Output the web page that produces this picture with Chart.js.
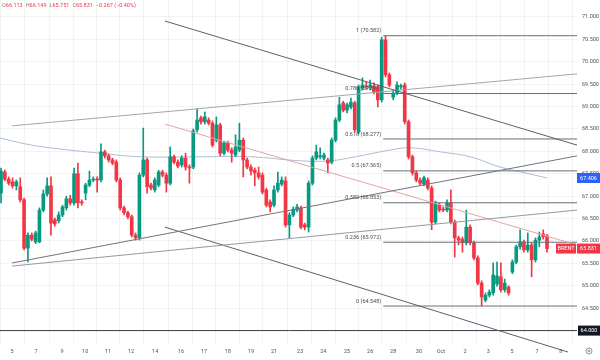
<!DOCTYPE html>
<html>
<head>
<meta charset="utf-8">
<title>Brent 4H</title>
<script src="https://cdn.jsdelivr.net/npm/chart.js@4.4.1/dist/chart.umd.min.js"></script>
<style>
  html, body { margin: 0; padding: 0; background: #ffffff; }
  #wrap { width: 600px; height: 360px; position: relative; }
</style>
</head>
<body>
<div id="wrap"><canvas id="chart"></canvas></div>
<script>
/**
 * Brent 4H candles with trend lines and a fib retracement
 * Values
 */

// candles, one per 4H bar
const opens = [67.07,67.54,67.38,67.32,67.23,67.21,66.92,65.84,66.13,65.98,65.98,66.69,67.05,67.23,66.47,66.45,66.58,66.74,66.94,66.85,
  67.50,66.87,67.07,67.25,67.36,67.38,67.36,67.99,67.90,67.81,67.76,67.36,66.74,66.63,66.54,66.13,66.07,67.47,67.81,67.25,
  67.14,67.25,67.54,67.47,67.29,67.88,67.76,67.70,67.85,67.65,67.65,68.48,68.75,68.66,68.70,68.63,68.25,68.59,67.96,68.19,
  68.03,67.92,68.03,68.25,67.81,67.65,67.58,67.52,67.47,67.14,66.87,66.80,67.14,67.27,67.34,66.36,66.58,66.69,66.74,66.36,
  66.31,67.29,67.85,67.88,67.85,67.81,67.76,68.25,68.70,69.08,68.92,68.99,69.08,68.43,69.42,69.46,69.42,69.46,69.44,69.15,
  70.49,69.71,69.21,69.30,69.44,69.48,68.66,67.88,67.52,67.36,67.27,67.36,67.18,66.42,66.80,66.71,66.69,66.85,66.42,66.07,
  66.04,65.96,66.31,65.96,65.62,65.06,64.68,64.79,64.84,65.04,65.20,64.91,64.97,65.31,65.53,65.87,65.98,65.80,65.91,65.58,
  66.02,66.16,66.113];
const highs = [67.63,67.58,67.43,67.41,67.36,67.41,66.96,66.18,66.18,66.22,66.74,67.14,67.41,67.43,66.51,66.65,66.80,67.00,67.02,67.63,
  67.74,66.92,67.29,67.56,67.43,67.43,68.17,68.03,67.94,67.85,67.81,67.41,66.78,66.67,66.58,66.18,67.52,68.52,67.85,67.29,
  67.41,67.58,67.58,67.52,68.10,67.92,67.81,67.90,67.96,67.70,68.50,68.95,68.79,68.88,68.75,68.68,68.77,68.63,68.23,68.23,
  68.08,68.37,68.63,68.30,67.85,67.70,67.63,67.65,67.52,67.18,66.92,67.23,67.54,67.43,67.43,66.63,66.76,66.82,66.78,66.40,
  67.34,67.90,68.14,68.08,67.96,67.85,68.30,68.75,69.21,69.12,69.08,69.19,69.12,69.48,69.64,69.55,69.59,69.53,69.48,70.55,
  70.58,69.75,69.37,69.55,69.50,69.53,68.70,67.92,67.56,67.41,67.45,67.41,67.23,66.89,66.85,66.76,66.92,67.14,66.47,66.11,
  66.09,66.69,66.36,66.00,65.67,65.11,64.84,64.91,65.51,65.53,65.51,65.15,65.00,65.58,65.91,66.25,66.02,66.18,65.96,66.07,
  66.20,66.25,66.149];
const lows = [66.85,67.34,67.25,67.18,67.14,66.87,65.80,65.53,66.00,65.94,65.96,66.65,67.00,66.13,66.33,66.40,66.54,66.69,66.80,66.80,
  66.74,66.80,66.92,67.21,67.32,67.09,67.32,67.85,67.76,67.70,67.32,66.69,66.58,66.49,66.09,66.02,66.02,67.43,67.07,67.14,
  67.09,67.21,67.43,67.09,67.25,67.72,67.63,67.65,67.58,67.29,67.61,68.43,68.61,68.61,68.59,68.10,68.21,67.90,67.92,67.99,
  67.76,67.88,67.99,67.43,67.61,67.47,67.23,67.38,67.05,66.76,66.65,66.76,67.09,67.23,66.31,66.07,66.54,66.65,66.27,66.25,
  66.20,67.25,67.81,67.83,67.81,67.52,67.72,68.21,68.66,68.88,68.86,68.95,68.43,68.39,69.37,69.39,69.37,69.28,68.99,69.10,
  69.66,69.44,69.15,69.26,69.39,68.61,67.83,67.47,67.32,67.25,67.23,67.14,66.25,66.38,66.65,66.65,66.65,66.38,65.64,65.91,
  65.75,65.91,65.91,65.58,65.02,64.55,64.64,64.75,64.79,64.99,64.86,64.86,64.79,65.27,65.49,65.82,65.75,65.75,65.20,65.53,
  65.87,66.04,65.751];
const closes = [67.56,67.38,67.29,67.23,67.32,66.92,65.84,66.13,66.04,66.18,66.69,67.05,67.23,66.40,66.38,66.58,66.76,66.94,66.85,67.50,
  66.85,66.85,67.25,67.36,67.38,67.36,67.99,67.90,67.81,67.74,67.36,66.74,66.63,66.54,66.13,66.07,67.47,67.81,67.21,67.18,
  67.36,67.54,67.47,67.29,67.88,67.76,67.67,67.85,67.65,67.63,68.46,68.70,68.66,68.77,68.63,68.14,68.59,67.96,68.19,68.03,
  67.96,68.10,68.25,67.81,67.65,67.56,67.52,67.43,67.09,66.80,66.76,67.14,67.29,67.36,66.36,66.58,66.71,66.76,66.31,66.31,
  67.29,67.85,67.99,67.90,67.92,67.74,68.25,68.70,69.04,68.92,69.04,69.10,68.48,69.44,69.48,69.44,69.48,69.33,69.15,70.49,
  69.71,69.48,69.30,69.48,69.46,68.66,67.88,67.52,67.36,67.29,67.41,67.18,66.42,66.85,66.69,66.69,66.85,66.42,66.07,66.02,
  65.96,66.31,65.96,65.62,65.06,64.75,64.79,64.86,65.24,65.22,64.91,65.06,64.84,65.53,65.87,65.98,65.80,65.91,65.58,66.02,
  66.09,66.098,65.831];

// time axis: candle index where each date label sits
const dateTickPos = [2.9, 9.1, 15.9, 21.9, 27.8, 33.8, 40.1, 46.8, 52.8, 59.0, 65.0, 71.0,
  77.8, 83.8, 90.0, 96.0, 102.0, 108.7, 114.4, 120.7, 126.7, 132.9, 139.4, 145.6];
const dateTickLabels = ['5', '7', '9', '10', '11', '12', '14', '16', '17', '18', '19', '21',
  '23', '24', '25', '26', '28', '30', 'Oct', '2', '3', '5', '7', '8'];

// price axis
const priceTicks = [64, 64.5, 65, 65.5, 66, 66.5, 67, 67.5, 68, 68.5, 69, 69.5, 70, 70.5, 71];

// moving average line, read at a few points
const maX = [-0.3, 6.2, 12.7, 25.8, 36.2, 51.8, 64.8, 77.8, 85.6, 93.4, 101.2, 106.4, 114.2, 122.0, 129.8, 136.3, 142];
const maY = [68.30, 68.17, 68.08, 67.96, 67.88, 67.88, 67.88, 67.79, 67.79, 67.90, 68.03, 68.08, 67.99, 67.88, 67.65, 67.52, 67.406];

// fib retracement
const fibRatios = ['1', '0.786', '0.618', '0.5', '0.382', '0.236', '0'];
const fibPrices = [70.582, 69.291, 68.277, 67.565, 66.853, 65.972, 64.548];
const fibStartX = 99.4;

// trend lines, end points as candle index / price
const trendX0 = [42.6, 2.9, 2.9, 2.9, 42.6, 42.6];
const trendY0 = [70.91, 68.57, 65.51, 65.44, 68.61, 66.31];
const trendX1 = [149.8, 149.8, 149.8, 149.8, 149.8, 147.5];
const trendY1 = [68.14, 69.73, 67.90, 66.69, 65.91, 63.52];

const supportLevel = 64.0;
const symbol = 'BRENT';

const X_MIN = -0.26;
const X_MAX = 149.8;
const Y_MIN = 63.723;
const Y_MAX = 71.379;

const UP = '#089981';
const DOWN = '#f23645';
const FONT = 'Roboto, "Noto Sans", sans-serif';
const trendColors = ['#5d606b', '#a3a6af', '#70737d', '#9598a1', '#e3a4a4', '#5d606b'];

const BrentChart = (() => {

  function candleColors() {
    return closes.map((c, i) => (c >= opens[i] ? UP : DOWN));
  }

  function buildDatasets() {
    const colors = candleColors();
    const sets = [];

    trendX0.forEach((x0, i) => {
      sets.push({
        type: 'line',
        data: [{ x: x0, y: trendY0[i] }, { x: trendX1[i], y: trendY1[i] }],
        borderColor: trendColors[i],
        borderWidth: 1,
        pointRadius: 0,
        clip: false,
        order: 0
      });
    });

    fibPrices.forEach(p => {
      sets.push({
        type: 'line',
        data: [{ x: fibStartX, y: p }, { x: X_MAX, y: p }],
        borderColor: '#6b6e78',
        borderWidth: 1,
        pointRadius: 0,
        order: 1
      });
    });

    // support line across the whole chart
    sets.push({
      type: 'line',
      data: [{ x: X_MIN, y: supportLevel }, { x: X_MAX, y: supportLevel }],
      borderColor: '#3a3d46',
      borderWidth: 1,
      pointRadius: 0,
      order: 1
    });

    // bodies
    sets.push({
      type: 'bar',
      data: opens.map((o, i) => ({ x: i, y: [o, closes[i]] })),
      backgroundColor: colors,
      barThickness: 3,
      minBarLength: 1,
      grouped: false,
      order: 2
    });

    // wicks
    sets.push({
      type: 'bar',
      data: lows.map((l, i) => ({ x: i, y: [l, highs[i]] })),
      backgroundColor: colors,
      barThickness: 1,
      grouped: false,
      order: 3
    });

    sets.push({
      type: 'line',
      data: maX.map((x, i) => ({ x, y: maY[i] })),
      borderColor: '#a9bdd6',
      borderWidth: 1,
      pointRadius: 0,
      tension: 0.4,
      order: 4
    });

    return sets;
  }

  function badge(ctx, x, y, w, text, bg) {
    ctx.fillStyle = bg;
    ctx.fillRect(x, y - 5, w, 10);
    ctx.fillStyle = '#ffffff';
    ctx.textAlign = 'center';
    ctx.textBaseline = 'middle';
    ctx.fillText(text, x + w / 2, y + 0.5);
  }

  const overlay = {
    id: 'overlay',
    afterDatasetsDraw(chart) {
      const { ctx, scales: { x, y } } = chart;
      ctx.save();
      ctx.font = `5.5px ${FONT}`;
      ctx.fillStyle = '#4a4d57';
      ctx.textAlign = 'right';
      ctx.textBaseline = 'bottom';
      const lx = x.getPixelForValue(fibStartX) - 2;
      fibPrices.forEach((p, i) => {
        ctx.fillText(`${fibRatios[i]} (${p.toFixed(3)})`, lx, y.getPixelForValue(p) - 2);
      });
      ctx.restore();
    },
    afterDraw(chart) {
      const { ctx, chartArea, scales: { y } } = chart;
      const last = closes.length - 1;
      ctx.save();
      ctx.font = `5.5px ${FONT}`;

      // OHLC header
      const change = closes[last] - closes[last - 1];
      const pct = change / closes[last - 1] * 100;
      const parts = [
        ['O', opens[last]], ['H', highs[last]], ['L', lows[last]], ['C', closes[last]]
      ];
      let hx = 2;
      ctx.textAlign = 'left';
      ctx.textBaseline = 'middle';
      parts.forEach(([k, v]) => {
        ctx.fillStyle = '#787b86';
        ctx.fillText(k, hx, 6);
        hx += ctx.measureText(k).width;
        ctx.fillStyle = DOWN;
        const s = v.toFixed(3);
        ctx.fillText(s, hx, 6);
        hx += ctx.measureText(s).width + 3;
      });
      ctx.fillStyle = DOWN;
      ctx.fillText(`\u2212${Math.abs(change).toFixed(3)} (\u2212${Math.abs(pct).toFixed(2)}%)`, hx, 6);

      // price axis badges
      const bx = chartArea.right;
      const bw = 600 - bx;
      badge(ctx, bx, y.getPixelForValue(maY[maY.length - 1]), bw, maY[maY.length - 1].toFixed(3), '#2962ff');
      const cy = y.getPixelForValue(closes[last]);
      badge(ctx, bx, cy, bw, closes[last].toFixed(3), DOWN);
      badge(ctx, bx - 21, cy, 20, symbol, DOWN);
      badge(ctx, bx + 1, y.getPixelForValue(supportLevel), bw - 1, supportLevel.toFixed(3), '#131722');

      // settings icon
      ctx.strokeStyle = '#787b86';
      ctx.lineWidth = 0.8;
      ctx.beginPath();
      ctx.arc(589, 351, 3, 0, Math.PI * 2);
      ctx.stroke();
      ctx.beginPath();
      ctx.arc(589, 351, 1, 0, Math.PI * 2);
      ctx.stroke();
      ctx.restore();
    }
  };

  function init() {
    const ctx = document.getElementById('chart');
    return new Chart(ctx, {
      data: { datasets: buildDatasets() },
      options: {
        responsive: true,
        maintainAspectRatio: false,
        devicePixelRatio: 1,
        animation: false,
        layout: { padding: 0 },
        plugins: {
          legend: { display: false },
          tooltip: { enabled: false }
        },
        scales: {
          x: {
            type: 'linear',
            min: X_MIN,
            max: X_MAX,
            offset: false,
            grid: { color: 'rgba(42, 46, 57, 0.06)', drawTicks: false },
            border: { display: false },
            ticks: {
              autoSkip: false,
              maxRotation: 0,
              padding: 5,
              color: '#50535e',
              font: { family: FONT, size: 5.5 },
              callback: (v, i) => dateTickLabels[i]
            },
            afterBuildTicks: scale => {
              scale.ticks = dateTickPos.map(v => ({ value: v }));
            },
            afterFit: scale => {
              scale.height = 17;
              scale.paddingLeft = 0;
              scale.paddingRight = 0;
            }
          },
          y: {
            type: 'linear',
            position: 'right',
            min: Y_MIN,
            max: Y_MAX,
            grid: { color: 'rgba(42, 46, 57, 0.06)', drawTicks: false },
            border: { display: false },
            ticks: {
              padding: 5,
              color: '#50535e',
              font: { family: FONT, size: 5.5 },
              callback: v => Number(v).toFixed(3)
            },
            afterBuildTicks: scale => {
              scale.ticks = priceTicks.map(v => ({ value: v }));
            },
            afterFit: scale => {
              scale.width = 23;
              scale.paddingTop = 0;
              scale.paddingBottom = 0;
            }
          }
        }
      },
      plugins: [overlay]
    });
  }

  return { init };
})();

BrentChart.init();
</script>
</body>
</html>
